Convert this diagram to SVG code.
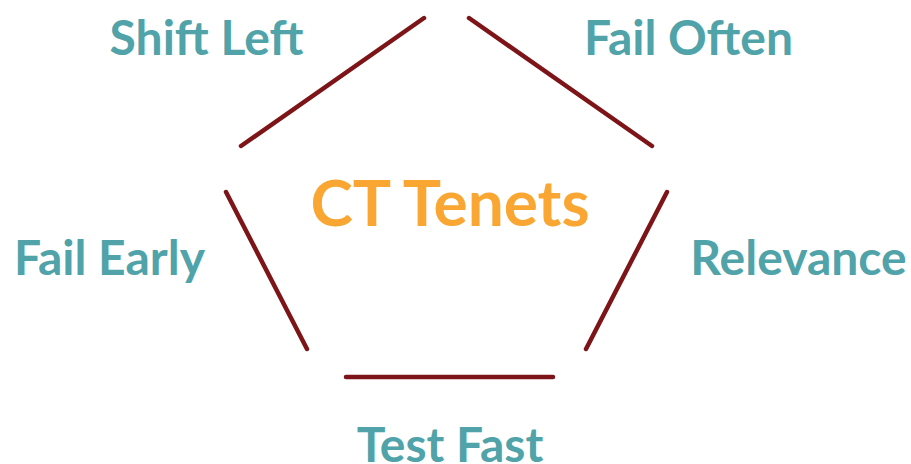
<svg xmlns="http://www.w3.org/2000/svg" width="911" height="464" viewBox="0 0 911 464">
<style>
.lbl{font-family:Lato,"Liberation Sans",sans-serif;font-weight:bold;font-size:48px;fill:#4fa3a9;text-anchor:middle}
.ctr{font-family:Lato,"Liberation Sans",sans-serif;font-weight:bold;font-size:64px;fill:#f9a632;text-anchor:middle}
.edge{stroke:#7d1518;stroke-width:4.5;stroke-linecap:round;fill:none}
</style>
<rect width="911" height="464" fill="#ffffff"/>
<g id="connectors">
<line class="edge" x1="241" y1="146" x2="424" y2="18"/>
<line class="edge" x1="469" y1="18" x2="652" y2="146"/>
<line class="edge" x1="667" y1="192" x2="586" y2="349"/>
<line class="edge" x1="553" y1="377" x2="346" y2="377"/>
<line class="edge" x1="307" y1="349" x2="226" y2="192"/>
</g>
<g id="center"><text class="ctr" x="450" y="226">CT Tenets</text></g>
<g id="shift-left"><text class="lbl" x="206.5" y="55">Shift Left</text></g>
<g id="fail-often"><text class="lbl" x="688.5" y="55">Fail Often</text></g>
<g id="relevance"><text class="lbl" x="798.5" y="275">Relevance</text></g>
<g id="test-fast"><text class="lbl" x="450" y="462">Test Fast</text></g>
<g id="fail-early"><text class="lbl" x="109.5" y="275">Fail Early</text></g>
</svg>
